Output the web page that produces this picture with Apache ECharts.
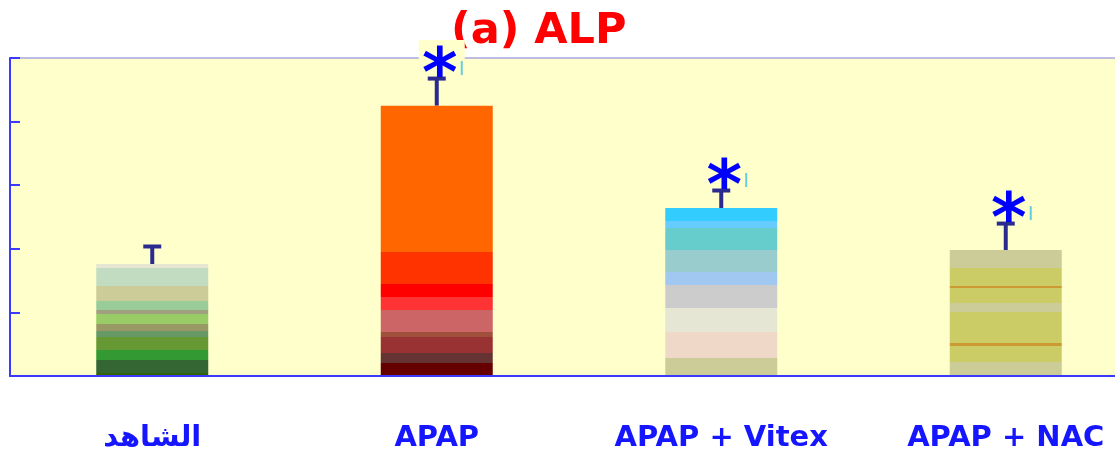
<!DOCTYPE html>
<html>
<head>
<meta charset="utf-8">
<script src="https://cdn.jsdelivr.net/npm/echarts@6/dist/echarts.min.js"></script>
<style>
  html, body { margin: 0; padding: 0; background: #ffffff; overflow: hidden; }
  /* the plot area runs past the right edge of the window */
  #chart { width: 1150px; height: 459px; }
</style>
</head>
<body>
<div id="chart"></div>
<script>
// ALP levels per group (arbitrary units), with error and significance marks
const categories = ['الشاهد', 'APAP', 'APAP + Vitex', 'APAP + NAC'];
const alpValues = [1.76, 4.25, 2.64, 1.98];
const alpErrors = [0.30, 0.45, 0.30, 0.44];
const significance = ['', '*', '*', '*'];
const yMin = 0;
const yMax = 5;
const yStep = 1;

// Horizontal colour bands for each bar: [from, to, colour] top to bottom
const barBands = [
  [[0, 0.036, '#e6e6d2'], [0.036, 0.196, '#c2dcc2'], [0.196, 0.33, '#cccc99'],
   [0.33, 0.41, '#99cc99'], [0.41, 0.446, '#a0a080'], [0.446, 0.536, '#99cc66'],
   [0.536, 0.598, '#999966'], [0.598, 0.652, '#669966'], [0.652, 0.768, '#669933'],
   [0.768, 0.857, '#339933'], [0.857, 0.973, '#336633'], [0.973, 1, '#336600']],
  [[0, 0.541, '#ff6600'], [0.541, 0.659, '#ff3300'], [0.659, 0.707, '#ff0000'],
   [0.707, 0.756, '#ff3333'], [0.756, 0.837, '#cc6666'], [0.837, 0.856, '#a0503a'],
   [0.856, 0.915, '#993333'], [0.915, 0.952, '#663333'], [0.952, 1, '#660000']],
  [[0, 0.077, '#33ccff'], [0.077, 0.119, '#66ccff'], [0.119, 0.25, '#66cccc'],
   [0.25, 0.381, '#99cccc'], [0.381, 0.458, '#a0c8f0'], [0.458, 0.595, '#cccccc'],
   [0.595, 0.738, '#e6e6d4'], [0.738, 0.893, '#f0d8c8'], [0.893, 1, '#cccc99']],
  [[0, 0.143, '#cccc99'], [0.143, 0.286, '#cccc66'], [0.286, 0.302, '#cc9933'],
   [0.302, 0.421, '#cccc66'], [0.421, 0.492, '#cccc99'], [0.492, 0.738, '#cccc66'],
   [0.738, 0.762, '#cc9933'], [0.762, 0.889, '#cccc66'], [0.889, 1, '#cccc99']]
];

function bandGradient(bands) {
  const stops = [];
  bands.forEach(function (b) {
    stops.push({ offset: b[0], color: b[2] });
    stops.push({ offset: b[1], color: b[2] });
  });
  return new echarts.graphic.LinearGradient(0, 0, 0, 1, stops);
}

const axisBlue = '#3a3aff';
const errColor = '#2b2b8f';

const chart = echarts.init(document.getElementById('chart'));

chart.setOption({
  animation: false,
  title: {
    text: '(a) ALP',
    left: 446,
    top: 5,
    z: 1,
    textStyle: { color: '#ff0000', fontFamily: 'DejaVu Sans', fontWeight: 'bold', fontSize: 43 }
  },
  grid: {
    left: 10, right: 2, top: 58, bottom: 83,
    show: true, backgroundColor: '#ffffcc', borderWidth: 0
  },
  xAxis: [
    {
      type: 'category',
      data: categories,
      z: 5,
      axisLine: { lineStyle: { color: axisBlue, width: 2 } },
      axisTick: { show: false },
      axisLabel: {
        interval: 0,
        margin: 48,
        color: '#1515ff',
        fontFamily: 'DejaVu Sans',
        fontWeight: 'bold',
        fontSize: 29
      }
    },
    {
      type: 'category',
      data: categories,
      position: 'top',
      axisLine: { lineStyle: { color: '#a8a8e0', width: 1.5 } },
      axisTick: { show: false },
      axisLabel: { show: false }
    }
  ],
  yAxis: {
    type: 'value',
    min: yMin, max: yMax, interval: yStep,
    z: 5,
    axisLine: { show: true, lineStyle: { color: axisBlue, width: 2 } },
    axisTick: { show: true, inside: true, length: 10, lineStyle: { color: axisBlue, width: 2 } },
    axisLabel: { show: false },
    splitLine: { show: false }
  },
  series: [
    {
      type: 'bar',
      barWidth: 112,
      data: alpValues.map(function (v, i) {
        return { value: v, itemStyle: { color: bandGradient(barBands[i]) } };
      })
    },
    {
      type: 'custom',
      data: alpValues.map(function (v, i) { return [i, v, alpErrors[i]]; }),
      renderItem: function (params, api) {
        const i = api.value(0);
        const v = api.value(1);
        const e = api.value(2);
        const base = api.coord([i, v]);
        const top = api.coord([i, v + e]);
        const x = base[0];
        const children = [];
        const mark = significance[params.dataIndex];
        if (mark) {
          children.push({
            type: 'rect',
            shape: { x: x - 18, y: top[1] - 37, width: 46, height: 37 },
            style: { fill: '#ffffcc' }
          });
        }
        children.push({
          type: 'line',
          shape: { x1: x, y1: base[1], x2: x, y2: top[1] },
          style: { stroke: errColor, lineWidth: 4 }
        });
        children.push({
          type: 'line',
          shape: { x1: x - 9, y1: top[1] + 1.5, x2: x + 9, y2: top[1] + 1.5 },
          style: { stroke: errColor, lineWidth: 4 }
        });
        if (mark) {
          children.push({
            type: 'text',
            x: x + 3,
            y: top[1] + 1,
            style: {
              text: mark,
              fill: '#0000ff',
              font: 'bold 68px "DejaVu Sans"',
              align: 'center',
              verticalAlign: 'middle'
            }
          });
          children.push({
            type: 'line',
            shape: { x1: x + 25, y1: top[1] - 16, x2: x + 25, y2: top[1] - 2 },
            style: { stroke: '#66ccdd', lineWidth: 2 }
          });
        }
        return { type: 'group', children: children };
      }
    }
  ]
});
</script>
</body>
</html>
